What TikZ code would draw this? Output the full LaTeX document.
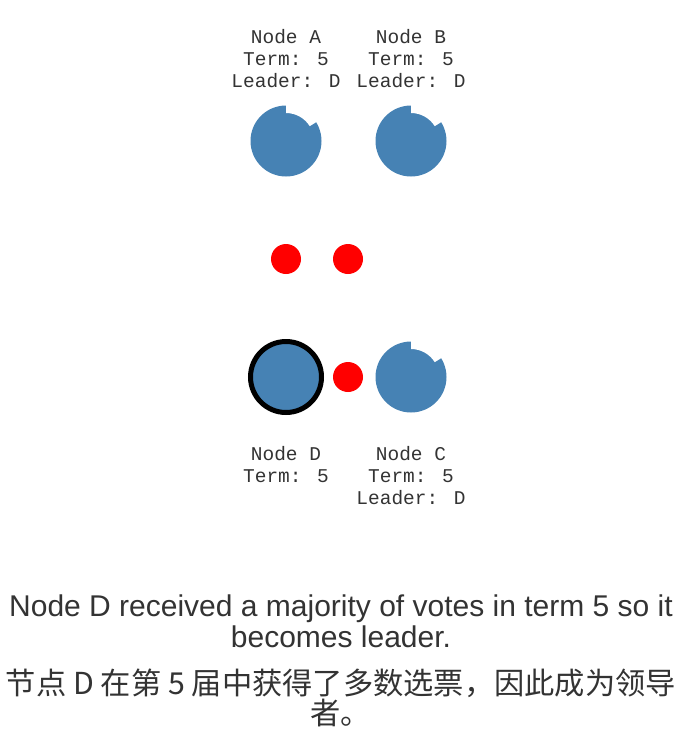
\documentclass[tikz,border=0pt]{standalone}
\usepackage{fontspec}
\setmainfont{Liberation Sans}
\newfontfamily\labelfont{Liberation Mono}
\newfontfamily\cjkfont{Noto Sans CJK SC}
\usetikzlibrary{positioning}
\definecolor{serverblue}{HTML}{4682B4}
\definecolor{textgrey}{HTML}{333333}

\begin{document}
\begin{tikzpicture}[
	x=0.75pt, y=-0.75pt,
	every node/.style={inner sep=0pt, outer sep=0pt},
	server/.style={circle, fill=serverblue, minimum size=53.25pt},
	leader/.style={server, draw=black, line width=3.75pt, minimum size=53.25pt},
	vote/.style={circle, fill=red, minimum size=22.5pt},
	info/.style={align=center, text=textgrey, font=\labelfont\fontsize{14.6}{16.5}\selectfont},
	caption/.style={align=center, text=textgrey, font=\fontsize{22.5}{23.25}\selectfont},
	cjkcaption/.style={align=center, text=textgrey, font=\cjkfont\fontsize{22.7}{21}\selectfont}
	]
	\useasboundingbox (0,0) rectangle (683,747);
	
	\node[server] (nodeA) at (286,141) {};
	\node[server] (nodeB) at (411,141) {};
	\node[leader] (nodeD) at (286,377) {};
	\node[server] (nodeC) at (411,377) {};
	
	\foreach \n in {nodeA,nodeB,nodeC}
		\fill[white] ([shift={(-32:38)}]\n.center) arc[start angle=-32, end angle=-90, radius=38]
			-- ([shift={(-90:28)}]\n.center) arc[start angle=-90, end angle=-32, radius=28] -- cycle;
	
	\node[vote] (voteA) at (286,259) {};
	\node[vote] (voteB) at (348,259) {};
	\node[vote] (voteC) at (348,377) {};
	
	\node[info] (infoA) at (286,59) {Node A\\Term: 5\\Leader: D};
	\node[info] (infoB) at (411,59) {Node B\\Term: 5\\Leader: D};
	\node[info] (infoD) at (286,465) {Node D\\Term: 5};
	\node[info] (infoC) at (411,476) {Node C\\Term: 5\\Leader: D};
	
	\node[caption] (english) at (341,621) {Node D received a majority of votes in term 5 so it\\becomes leader.};
	\node[cjkcaption] (chinese) at (341,698) {节点 D 在第 5 届中获得了多数选票，因此成为领导\\者。};
	
\end{tikzpicture}
\end{document}
